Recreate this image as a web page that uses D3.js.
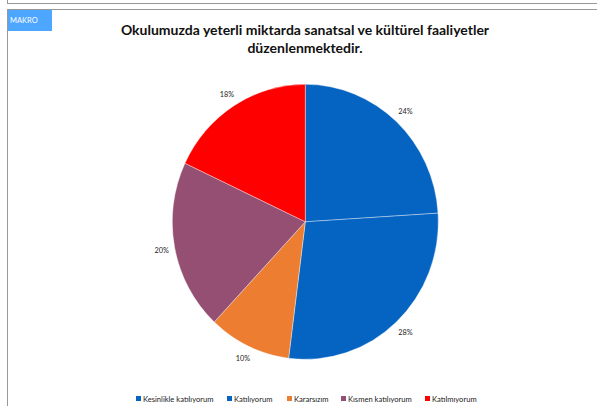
<!DOCTYPE html>
<html><head><meta charset="utf-8">
<script src="https://cdn.jsdelivr.net/npm/d3@7"></script>
<style>body{margin:0;background:#fff;}svg{display:block;}</style>
</head><body>
<svg id="c" width="597" height="406"></svg>
<script>
const categories = ["Kesinlikle katılıyorum","Katılıyorum","Kararsızım","Kısmen katılıyorum","Katılmıyorum"];
const values = [24, 28, 10, 20, 18];
const colors = ["#0563C1","#0563C1","#ED7D31","#954F72","#FF0000"];
const titleLines = ["Okulumuzda yeterli miktarda sanatsal ve kültürel faaliyetler","düzenlenmektedir."];

const svg = d3.select("#c");
const font = "Lato, 'Open Sans', sans-serif";

// frame
svg.append("line").attr("x1",7.5).attr("y1",0).attr("x2",7.5).attr("y2",3).attr("stroke","#999");
svg.append("line").attr("x1",7).attr("y1",3.5).attr("x2",597).attr("y2",3.5).attr("stroke","#999");
svg.append("line").attr("x1",7).attr("y1",9.5).attr("x2",597).attr("y2",9.5).attr("stroke","#999");
svg.append("line").attr("x1",7.5).attr("y1",9).attr("x2",7.5).attr("y2",406).attr("stroke","#999");

svg.append("rect").attr("x",8).attr("y",10).attr("width",44).attr("height",21).attr("fill","#4DA6FF");
svg.append("text").attr("x",10).attr("y",23).attr("fill","#fff").attr("font-family",font)
  .attr("font-size",7.5).text("MAKRO");

svg.selectAll("text.title").data(titleLines).join("text").attr("class","title")
  .attr("x",305).attr("y",(d,i)=>35+i*18).attr("text-anchor","middle")
  .attr("font-family",font).attr("font-weight","bold").attr("font-size",14).attr("fill","#111")
  .text(d=>d);

const cx=305.3, cy=221.8, rx=133, ry=137.5;
const g = svg.append("g").attr("transform",`translate(${cx},${cy}) scale(1,${ry/rx})`);
const pie = d3.pie().sort(null).value(d=>d)(values);
const arc = d3.arc().innerRadius(0).outerRadius(rx);
g.selectAll("path").data(pie).join("path").attr("d",arc)
  .attr("fill",(d,i)=>colors[i]).attr("stroke","#fff").attr("stroke-width",0.6).attr("stroke-opacity",0.6);

const labelArc = d3.arc().innerRadius(rx*1.1).outerRadius(rx*1.1);
svg.selectAll("text.lbl").data(pie).join("text").attr("class","lbl")
  .attr("transform",d=>{const c=labelArc.centroid(d);return `translate(${cx+c[0]},${cy+c[1]*ry/rx})`;})
  .attr("text-anchor","middle").attr("dy","0.35em")
  .attr("font-family",font).attr("font-size",7.3).attr("fill","#222")
  .text(d=>d.data+"%");

// legend
const legX = [136, 227, 287, 341, 425];
const lg = svg.selectAll("g.leg").data(categories).join("g").attr("class","leg")
  .attr("transform",(d,i)=>`translate(${legX[i]},399)`);
lg.append("rect").attr("x",0).attr("y",-3).attr("width",5).attr("height",5).attr("fill",(d,i)=>colors[i]);
lg.append("text").attr("x",7).attr("y",0).attr("dy","0.35em").attr("font-family",font)
  .attr("font-size",7.6).attr("fill","#222").text(d=>d);
</script>
</body></html>
